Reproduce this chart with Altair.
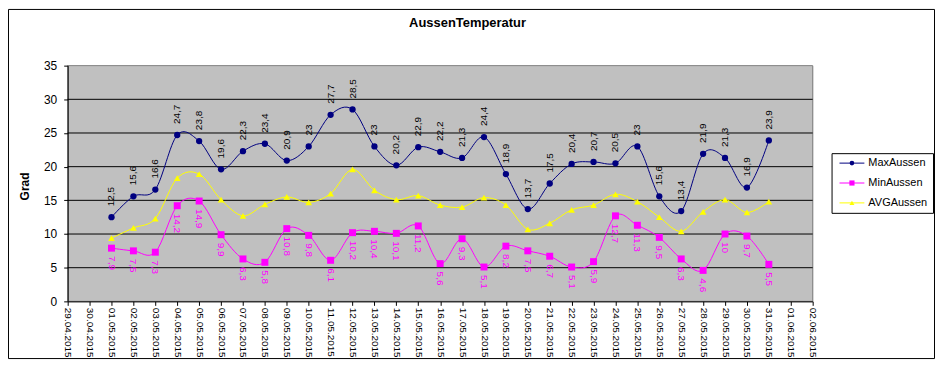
import altair as alt
import pandas as pd

dates = ["29.04.2015", "30.04.2015",
         "01.05.2015", "02.05.2015", "03.05.2015", "04.05.2015", "05.05.2015",
         "06.05.2015", "07.05.2015", "08.05.2015", "09.05.2015", "10.05.2015",
         "11.05.2015", "12.05.2015", "13.05.2015", "14.05.2015", "15.05.2015",
         "16.05.2015", "17.05.2015", "18.05.2015", "19.05.2015", "20.05.2015",
         "21.05.2015", "22.05.2015", "23.05.2015", "24.05.2015", "25.05.2015",
         "26.05.2015", "27.05.2015", "28.05.2015", "29.05.2015", "30.05.2015",
         "31.05.2015", "01.06.2015", "02.06.2015"]
data_days = dates[2:33]

max_aussen = [12.5, 15.6, 16.6, 24.7, 23.8, 19.6, 22.3, 23.4, 20.9, 23, 27.7,
              28.5, 23, 20.2, 22.9, 22.2, 21.3, 24.4, 18.9, 13.7, 17.5, 20.4,
              20.7, 20.5, 23, 15.6, 13.4, 21.9, 21.3, 16.9, 23.9]
min_aussen = [7.9, 7.5, 7.3, 14.2, 14.9, 9.9, 6.3, 5.8, 10.8, 9.8, 6.1, 10.2,
              10.4, 10.1, 11.2, 5.6, 9.3, 5.1, 8.2, 7.5, 6.7, 5.1, 5.9, 12.7,
              11.3, 9.5, 6.3, 4.6, 10, 9.7, 5.5]
avg_aussen = [9.4, 10.9, 12.3, 18.3, 18.9, 15.1, 12.7, 14.4, 15.5, 14.7, 16.0,
              19.6, 16.5, 15.1, 15.7, 14.3, 14.0, 15.4, 14.3, 10.7, 11.6, 13.6,
              14.3, 15.9, 14.8, 12.5, 10.4, 13.3, 15.1, 13.2, 14.8]

series = ["MaxAussen", "MinAussen", "AVGAussen"]
colors = ["#000080", "#FF00FF", "#FFFF00"]
shapes = ["circle", "square", "triangle-up"]
sizes = [40, 49, 45]
y_ticks = [0, 5, 10, 15, 20, 25, 30, 35]
title_text = "AussenTemperatur"
y_title = "Grad"

rows = []
for name, vals in zip(series, [max_aussen, min_aussen, avg_aussen]):
    for d, v in zip(data_days, vals):
        rows.append({"date": d, "value": v, "series": name,
                     "label": f"{v:g}".replace(".", ",")})
df = pd.DataFrame(rows)
grid_df = pd.DataFrame({"value": [v for v in y_ticks if 0 < v < 35]})

W, H = 749, 237

x_enc = alt.X("date:O",
              scale=alt.Scale(type="point", domain=dates, padding=0),
              axis=alt.Axis(title=None, labelAngle=90, labelFontSize=10,
                            labelFont="Liberation Sans", labelColor="black",
                            labelPadding=2, tickSize=4, tickColor="black",
                            domainColor="black", labelOverlap=False,
                            labelLimit=200, grid=False, zindex=1))
y_enc = alt.Y("value:Q",
              scale=alt.Scale(domain=[0, 35], nice=False, zero=True),
              axis=alt.Axis(values=y_ticks, title=y_title, titleFontSize=12,
                            titleFont="Liberation Sans", titleFontWeight="bold",
                            titleColor="black", titleX=-43, titleY=121,
                            titleAngle=270, titleAlign="center",
                            titleBaseline="middle",
                            labelFontSize=12, labelFont="Liberation Sans",
                            labelColor="black", labelPadding=7, tickSize=4,
                            tickColor="black", domainColor="black",
                            grid=False, zindex=1))

layers = []

# plot area background
layers.append(
    alt.Chart(pd.DataFrame({"t": [0]}))
    .mark_rect(fill="#C0C0C0", stroke="#808080", strokeWidth=1)
    .encode(x=alt.value(0), x2=alt.value(W), y=alt.value(0), y2=alt.value(H))
)
# gridlines
layers.append(
    alt.Chart(grid_df)
    .mark_rule(color="black", strokeWidth=1)
    .encode(y=y_enc, x=alt.value(0), x2=alt.value(W))
)

base = alt.Chart(df)
for name, col in zip(series, colors):
    layers.append(
        base.transform_filter(alt.datum.series == name)
        .mark_line(interpolate="cardinal", strokeWidth=1, color=col)
        .encode(x=x_enc, y=y_enc)
    )
for name, col, shp, sz in zip(series, colors, shapes, sizes):
    layers.append(
        base.transform_filter(alt.datum.series == name)
        .mark_point(filled=True, shape=shp, size=sz, color=col, opacity=1)
        .encode(x=x_enc, y=y_enc)
    )

label_font = "Liberation Sans Narrow, Liberation Sans"
layers.append(
    base.transform_filter(alt.datum.series == "MaxAussen")
    .mark_text(angle=270, align="left", baseline="middle", dx=11,
               fontSize=10, font=label_font, color="black")
    .encode(x=x_enc, y=y_enc, text="label:N")
)
layers.append(
    base.transform_filter(alt.datum.series == "MinAussen")
    .mark_text(angle=90, align="left", baseline="middle", dx=8,
               fontSize=10, font=label_font, color="#FF00FF")
    .encode(x=x_enc, y=y_enc, text="label:N")
)

# title
layers.append(
    alt.Chart(pd.DataFrame({"t": [title_text]}))
    .mark_text(align="center", baseline="alphabetic", fontSize=13,
               fontWeight="bold", font="Liberation Sans", color="black")
    .encode(x=alt.value(402), y=alt.value(-39), text="t:N")
)

# outer border
layers.append(
    alt.Chart(pd.DataFrame({"t": [0]}))
    .mark_rect(fillOpacity=0, fill="white", stroke="black", strokeWidth=1,
               clip=False)
    .encode(x=alt.value(-59.5), x2=alt.value(871.5),
            y=alt.value(-56.5), y2=alt.value(294.5))
)

# legend box
layers.append(
    alt.Chart(pd.DataFrame({"t": [0]}))
    .mark_rect(fill="white", stroke="black", strokeWidth=1)
    .encode(x=alt.value(768.5), x2=alt.value(870.5),
            y=alt.value(88.5), y2=alt.value(148.5))
)
for i, (name, col, shp, sz) in enumerate(zip(series, colors, shapes, sizes)):
    ly = 98 + 20 * i
    one = alt.Chart(pd.DataFrame({"t": [name]}))
    layers.append(one.mark_rule(color=col, strokeWidth=1)
                  .encode(x=alt.value(776), x2=alt.value(801), y=alt.value(ly)))
    layers.append(one.mark_point(filled=True, shape=shp, size=sz * 0.55,
                                 color=col, opacity=1)
                  .encode(x=alt.value(788.5), y=alt.value(ly)))
    layers.append(one.mark_text(align="left", baseline="middle", fontSize=11,
                                font="Liberation Sans", color="black")
                  .encode(x=alt.value(805), y=alt.value(ly), text="t:N"))

chart = alt.layer(*layers).properties(
    width=W, height=H,
    autosize=alt.AutoSizeParams(type="none"),
    padding={"left": 60, "top": 57, "right": 123, "bottom": 58},
).configure_view(
    strokeWidth=0
).configure(background="white")

chart.save("out.html", embed_options={"renderer": "svg", "actions": False})
